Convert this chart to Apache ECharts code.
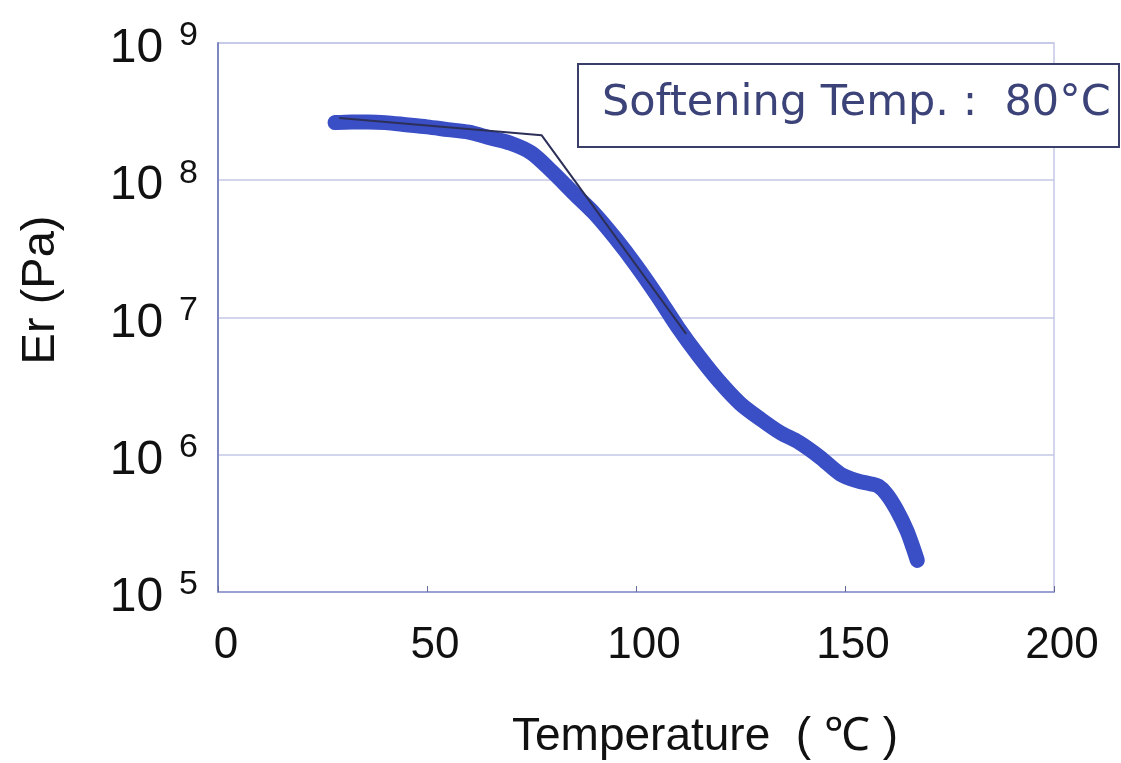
<!DOCTYPE html>
<html><head><meta charset="utf-8">
<script src="https://cdn.jsdelivr.net/npm/echarts@6/dist/echarts.min.js"></script>
<style>html,body{margin:0;padding:0;background:#fff}#c{width:1121px;height:763px}</style>
</head><body><div id="c"></div>
<script>
const temps = [28, 32, 36, 40, 45, 50, 55, 60, 65, 70, 75, 80, 85, 90, 95, 100, 105, 110, 115, 120, 125, 130, 134.5, 139, 144, 149, 153, 156, 158, 160, 162.4, 164.8, 166.3, 167.3];
const modulus = [2.63e8, 2.66e8, 2.66e8, 2.63e8, 2.54e8, 2.45e8, 2.34e8, 2.24e8, 2.04e8, 1.86e8, 1.58e8, 1.15e8, 8.1e7, 5.75e7, 3.8e7, 2.4e7, 1.45e7, 8.5e6, 5.25e6, 3.4e6, 2.35e6, 1.8e6, 1.45e6, 1.23e6, 9.6e5, 7.2e5, 6.45e5, 6.15e5, 5.9e5, 5.15e5, 3.95e5, 2.8e5, 2.1e5, 1.7e5];
const tangentT = [29, 77.4, 112];
const tangentE = [2.84e8, 2.13e8, 7.6e6];
const xTicks = [0, 50, 100, 150, 200];
const yExponents = [5, 6, 7, 8, 9];
const annotation = 'Softening Temp. :  80°C';
const xTitle = 'Temperature  ( ℃ )';
const yTitle = 'Er (Pa)';

const chart = echarts.init(document.getElementById('c'));
chart.setOption({
  animation: false,
  grid: { left: 218, right: 67, top: 43, bottom: 171, show: true, borderColor: '#c4c7e6', borderWidth: 1.5, outerBoundsMode: 'none', containLabel: false },
  xAxis: {
    type: 'value', min: 0, max: 200, interval: 50,
    axisLine: { show: true, lineStyle: { color: '#9aa0d2', width: 2 } },
    axisTick: { show: true, inside: true, length: 6, lineStyle: { color: '#666a99' } },
    splitLine: { show: false },
    axisLabel: { margin: 32, padding: [0, 0, 0, 16], color: '#111', fontSize: 44, fontFamily: 'Liberation Sans, Arial',
      formatter: v => xTicks.includes(v) ? String(v) : '' }
  },
  yAxis: {
    type: 'log', logBase: 10, min: 1e5, max: 1e9,
    axisLine: { show: true, lineStyle: { color: '#7f86c4', width: 2 } },
    axisTick: { show: false },
    splitLine: { show: true, lineStyle: { color: '#c4c7e6', width: 1.5 } },
    minorSplitLine: { show: false },
    axisLabel: {
      margin: 20, color: '#111',
      formatter: v => {
        const e = Math.round(Math.log10(v));
        return yExponents.includes(e) ? '{b|10}{s|' + e + '}' : '';
      },
      rich: {
        b: { fontSize: 48, fontFamily: 'Liberation Sans, Arial', color: '#111', lineHeight: 52, padding: [12, 0, 0, 0] },
        s: { fontSize: 34, fontFamily: 'Liberation Sans, Arial', color: '#111', lineHeight: 52, padding: [0, 0, 14, 16] }
      }
    }
  },
  series: [
    {
      type: 'line', data: temps.map((t, i) => [t, modulus[i]]),
      smooth: 0.3, showSymbol: false, z: 2,
      lineStyle: { color: '#3a4ec6', width: 15, cap: 'round', join: 'round' }
    },
    {
      type: 'line', data: tangentT.map((t, i) => [t, tangentE[i]]),
      showSymbol: false, z: 3,
      lineStyle: { color: '#2c3058', width: 2 }
    }
  ],
  graphic: [
    { type: 'rect', left: 577, top: 63, shape: { width: 541, height: 83 },
      style: { fill: '#fff', stroke: '#3a3f6a', lineWidth: 2 }, z: 10 },
    { type: 'text', x: 602, y: 104, z: 11,
      style: { text: annotation, fontSize: 43, fill: '#3b4378', fontFamily: 'DejaVu Sans, Liberation Sans', verticalAlign: 'middle' } },
    { type: 'text', x: 512, y: 737, z: 11,
      style: { text: xTitle, fontSize: 46, fill: '#111', fontFamily: 'Liberation Sans, Arial', verticalAlign: 'middle' } },
    { type: 'text', x: 41, y: 290, rotation: Math.PI / 2, z: 11,
      style: { text: yTitle, fontSize: 47, fill: '#111', fontFamily: 'Liberation Sans, Arial', align: 'center', verticalAlign: 'middle' } }
  ]
});
</script></body></html>
